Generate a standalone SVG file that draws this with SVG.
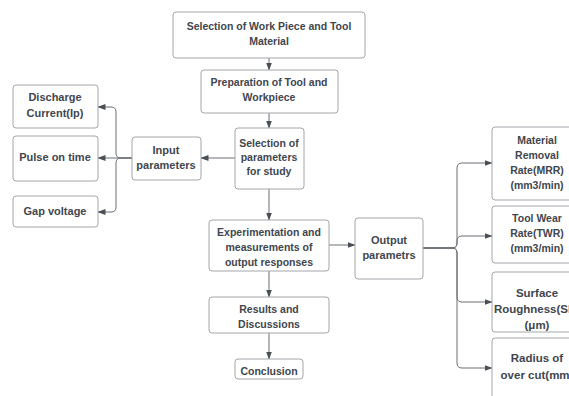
<svg xmlns="http://www.w3.org/2000/svg" width="569" height="396" viewBox="0 0 569 396">
<style>
.box{fill:#ffffff;stroke:#a3a6ab;stroke-width:1}
.t{font-family:"Liberation Sans",Arial,sans-serif;font-weight:bold;font-size:10.5px;fill:#41464e;text-anchor:middle}
.tm{font-size:11px}
.tl{font-size:11.5px}
.c{fill:none;stroke:#6b6f75;stroke-width:1}
</style>
<defs>
<marker id="ah" viewBox="0 0 8 8" refX="7.5" refY="4" markerWidth="8" markerHeight="8" markerUnits="userSpaceOnUse" orient="auto">
<path d="M0,1 L8,4 L0,7 Z" fill="#4a4f55"/>
</marker>
</defs>
<rect width="569" height="396" fill="#ffffff"/>
<g id="connectors">
<path class="c" d="M269,58 V70" marker-end="url(#ah)"/>
<path class="c" d="M269,113 V128" marker-end="url(#ah)"/>
<path class="c" d="M235,158 H201" marker-end="url(#ah)"/>
<path class="c" d="M132,158 H98" marker-end="url(#ah)"/>
<path class="c" d="M132,158 H121 Q116,158 116,153 V112 Q116,107 111,107 H98" marker-end="url(#ah)"/>
<path class="c" d="M132,158 H121 Q116,158 116,163 V207 Q116,212 111,212 H98" marker-end="url(#ah)"/>
<path class="c" d="M269,189 V220" marker-end="url(#ah)"/>
<path class="c" d="M269,271 V297" marker-end="url(#ah)"/>
<path class="c" d="M269,333 V359" marker-end="url(#ah)"/>
<path class="c" d="M329,245 H355" marker-end="url(#ah)"/>
<path class="c" d="M423,248 H452 Q457,248 457,243 V168 Q457,163 462,163 H492" marker-end="url(#ah)"/>
<path class="c" d="M423,248 H452 Q457,248 457,243 V241 Q457,236 462,236 H492" marker-end="url(#ah)"/>
<path class="c" d="M423,248 H452 Q457,248 457,253 V297 Q457,302 462,302 H492" marker-end="url(#ah)"/>
<path class="c" d="M423,248 H452 Q457,248 457,253 V363 Q457,368 462,368 H492" marker-end="url(#ah)"/>
</g>
<g id="n1"><rect class="box" x="173" y="12" width="192" height="46" rx="3"/>
<text class="t" x="269" y="30">Selection of Work Piece and Tool</text>
<text class="t" x="269" y="45">Material</text></g>
<g id="n2"><rect class="box" x="201" y="70" width="137" height="43" rx="3"/>
<text class="t" x="269" y="86">Preparation of Tool and</text>
<text class="t" x="269" y="101">Workpiece</text></g>
<g id="n3"><rect class="box" x="235" y="128" width="69" height="61" rx="3"/>
<text class="t" x="269" y="147">Selection of</text>
<text class="t" x="269" y="161">parameters</text>
<text class="t" x="269" y="175">for study</text></g>
<g id="n4"><rect class="box" x="132" y="137" width="69" height="43" rx="3"/>
<text class="t tm" x="166" y="154">Input</text>
<text class="t tm" x="166" y="169">parameters</text></g>
<g id="n5"><rect class="box" x="13" y="85" width="85" height="43" rx="3"/>
<text class="t tm" x="55" y="101">Discharge</text>
<text class="t tm" x="55" y="117">Current(Ip)</text></g>
<g id="n6"><rect class="box" x="13" y="136" width="85" height="45" rx="3"/>
<text class="t tm" x="55" y="161">Pulse on time</text></g>
<g id="n7"><rect class="box" x="13" y="196" width="85" height="31" rx="3"/>
<text class="t tm" x="55" y="215">Gap voltage</text></g>
<g id="n8"><rect class="box" x="209" y="220" width="120" height="51" rx="3"/>
<text class="t" x="269" y="236">Experimentation and</text>
<text class="t" x="269" y="251">measurements of</text>
<text class="t" x="269" y="266">output responses</text></g>
<g id="n9"><rect class="box" x="209" y="297" width="120" height="36" rx="3"/>
<text class="t" x="269" y="313">Results and</text>
<text class="t" x="269" y="328">Discussions</text></g>
<g id="n10"><rect class="box" x="235" y="359" width="68" height="20" rx="3"/>
<text class="t" x="269" y="375">Conclusion</text></g>
<g id="n11"><rect class="box" x="355" y="218" width="68" height="61" rx="3"/>
<text class="t tm" x="389" y="244">Output</text>
<text class="t tm" x="389" y="259">parametrs</text></g>
<g id="n12"><rect class="box" x="492" y="127" width="92" height="73" rx="3"/>
<text class="t" x="537" y="144">Material</text>
<text class="t" x="537" y="159">Removal</text>
<text class="t" x="537" y="174">Rate(MRR)</text>
<text class="t" x="537" y="189">(mm3/min)</text></g>
<g id="n13"><rect class="box" x="492" y="206" width="92" height="57" rx="3"/>
<text class="t" x="537" y="222">Tool Wear</text>
<text class="t" x="537" y="237">Rate(TWR)</text>
<text class="t" x="537" y="252">(mm3/min)</text></g>
<g id="n14"><rect class="box" x="492" y="272" width="92" height="60" rx="3"/>
<text class="t tl" x="537" y="297">Surface</text>
<text class="t tl" x="537" y="313">Roughness(SR)</text>
<text class="t tl" x="537" y="329">(μm)</text></g>
<g id="n15"><rect class="box" x="492" y="338" width="92" height="70" rx="3"/>
<text class="t tl" x="537" y="362">Radius of</text>
<text class="t tl" x="537" y="379">over cut(mm)</text></g>
</svg>
